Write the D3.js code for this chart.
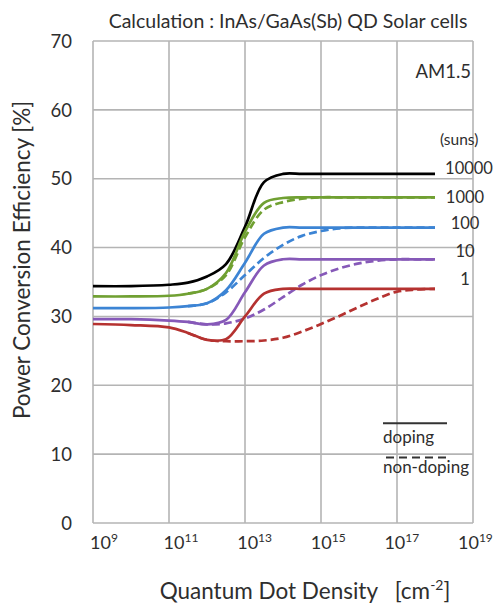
<!DOCTYPE html>
<html>
<head>
<meta charset="utf-8">
<script src="https://cdn.jsdelivr.net/npm/d3@7"></script>
<style>
  body { margin: 0; background: #fff; }
  svg text { font-family: Lato, 'Open Sans', sans-serif; fill: #2e2e2e; }
</style>
</head>
<body>
<svg id="chart" width="494" height="607"></svg>
<script>
// density exponents (x = 10^e cm^-2)
const exps = [9, 10, 11, 11.5, 12, 12.5, 13, 13.5, 14, 14.5, 15, 15.5, 16, 16.5, 17, 17.5, 18];

// doping (solid) efficiencies [%]
const doped10000 = [34.4, 34.4, 34.6, 34.9, 35.8, 37.6, 43.0, 49.5, 50.7, 50.7, 50.7, 50.7, 50.7, 50.7, 50.7, 50.7, 50.7];
const doped1000 = [32.9, 32.9, 33.0, 33.3, 34.0, 36.3, 42.3, 46.5, 47.2, 47.3, 47.3, 47.3, 47.3, 47.3, 47.3, 47.3, 47.3];
const doped100 = [31.2, 31.2, 31.3, 31.5, 31.9, 33.8, 37.8, 42.0, 42.9, 42.9, 42.9, 42.9, 42.9, 42.9, 42.9, 42.9, 42.9];
const doped10 = [29.6, 29.6, 29.4, 29.2, 28.85, 29.5, 33.5, 37.4, 38.3, 38.3, 38.3, 38.3, 38.3, 38.3, 38.3, 38.3, 38.3];
const doped1 = [28.9, 28.75, 28.4, 27.6, 26.6, 26.7, 30.0, 33.3, 34.0, 34.0, 34.0, 34.0, 34.0, 34.0, 34.0, 34.0, 34.0];

// non-doping (dashed) efficiencies [%], from 10^11.5
const dashExps = [11.5, 12, 12.5, 13, 13.5, 14, 14.5, 15, 15.5, 16, 16.5, 17, 17.5, 18];
const undoped1000 = [33.3, 34.0, 36.0, 41.5, 45.5, 46.6, 47.1, 47.3, 47.3, 47.3, 47.3, 47.3, 47.3, 47.3];
const undoped100 = [31.5, 31.9, 33.5, 36.0, 38.5, 40.4, 41.7, 42.4, 42.8, 42.9, 42.9, 42.9, 42.9, 42.9];
const undoped10 = [29.2, 28.85, 29.0, 29.7, 31.0, 32.8, 34.6, 36.0, 37.0, 37.7, 38.1, 38.3, 38.3, 38.3];
const undoped1 = [27.6, 26.6, 26.4, 26.4, 26.5, 26.9, 27.8, 28.9, 30.1, 31.4, 32.6, 33.6, 33.9, 34.0];

const suns = ['10000', '1000', '100', '10', '1'];
const colors = ['#000000', '#70a032', '#3c84d4', '#8659b8', '#b53230'];
const solidSeries = [doped10000, doped1000, doped100, doped10, doped1];
const dashedSeries = [null, undoped1000, undoped100, undoped10, undoped1];

const yTicks = [0, 10, 20, 30, 40, 50, 60, 70];
const xTickExps = [9, 11, 13, 15, 17, 19];

const margin = { top: 41, right: 21, bottom: 84, left: 93 };
const W = 494, H = 607;
const w = W - margin.left - margin.right;
const h = H - margin.top - margin.bottom;

const svg = d3.select('#chart');
const g = svg.append('g').attr('transform', `translate(${margin.left},${margin.top})`);

const x = d3.scaleLog().domain([1e9, 1e19]).range([0, w]);
const y = d3.scaleLinear().domain([0, 70]).range([h, 0]);

// grid
g.append('g')
  .selectAll('line')
  .data(yTicks)
  .join('line')
  .attr('x1', 0)
  .attr('x2', w)
  .attr('y1', d => y(d))
  .attr('y2', d => y(d))
  .attr('stroke', '#b4b4b4')
  .attr('stroke-width', 1.6);
g.append('g')
  .selectAll('line')
  .data(xTickExps)
  .join('line')
  .attr('x1', d => x(Math.pow(10, d)))
  .attr('x2', d => x(Math.pow(10, d)))
  .attr('y1', 0)
  .attr('y2', h)
  .attr('stroke', '#b4b4b4')
  .attr('stroke-width', 1.6);

// y tick labels
g.append('g')
  .selectAll('text')
  .data(yTicks)
  .join('text')
  .attr('x', -21)
  .attr('y', d => y(d))
  .attr('dy', '0.36em')
  .attr('text-anchor', 'end')
  .attr('font-size', 18.5)
  .text(d => d);

// x tick labels with superscripts (labels drift a little left of the grid)
const xl = g.append('g')
  .selectAll('text')
  .data(xTickExps)
  .join('text')
  .attr('x', (d, i) => x(Math.pow(10, d)) - 3 - 2.4 * i)
  .attr('y', h + 26)
  .attr('font-size', 18);
xl.append('tspan').text('10');
xl.append('tspan').attr('dy', -7).attr('font-size', 12).text(d => d);

const line = d3.line()
  .x(d => x(Math.pow(10, d[0])))
  .y(d => y(d[1]))
  .curve(d3.curveCatmullRom.alpha(0.5));

// dashed (non-doping) first, solid on top
dashedSeries.forEach((s, i) => {
  if (!s) return;
  g.append('path')
    .attr('d', line(dashExps.map((e, j) => [e, s[j]])))
    .attr('fill', 'none')
    .attr('stroke', colors[i])
    .attr('stroke-width', 2.7)
    .attr('stroke-dasharray', '8,4');
});
solidSeries.forEach((s, i) => {
  g.append('path')
    .attr('d', line(exps.map((e, j) => [e, s[j]])))
    .attr('fill', 'none')
    .attr('stroke', colors[i])
    .attr('stroke-width', 2.7);
});

// suns labels
g.append('text')
  .attr('x', 347)
  .attr('y', 99)
  .attr('dy', '0.35em')
  .attr('font-size', 15.5)
  .text('(suns)');
g.append('g')
  .selectAll('text')
  .data(suns)
  .join('text')
  .attr('x', (d, i) => (i === 0 ? 376 : 372))
  .attr('y', (d, i) => y(solidSeries[i][solidSeries[i].length - 1]) + [-6, 0, -4, -8, -10][i])
  .attr('dy', '0.35em')
  .attr('text-anchor', 'middle')
  .attr('font-size', 16.5)
  .text(d => d);

// AM1.5
g.append('text')
  .attr('x', w - 2)
  .attr('y', y(65.5))
  .attr('dy', '0.35em')
  .attr('text-anchor', 'end')
  .attr('font-size', 18.5)
  .text('AM1.5');

// legend
g.append('line')
  .attr('x1', 290).attr('x2', 354)
  .attr('y1', y(14.5)).attr('y2', y(14.5))
  .attr('stroke', '#333').attr('stroke-width', 2);
g.append('text')
  .attr('x', 290).attr('y', y(11.6))
  .attr('font-size', 17)
  .text('doping');
g.append('line')
  .attr('x1', 293).attr('x2', 357)
  .attr('y1', y(9.5)).attr('y2', y(9.5))
  .attr('stroke', '#333').attr('stroke-width', 2)
  .attr('stroke-dasharray', '8,5');
g.append('text')
  .attr('x', 290).attr('y', y(7.2))
  .attr('font-size', 17)
  .text('non-doping');

// title
svg.append('text')
  .attr('x', 288)
  .attr('y', 28)
  .attr('text-anchor', 'middle')
  .attr('font-size', 19.5)
  .text('Calculation : InAs/GaAs(Sb) QD Solar cells');

// axis titles
const xt = svg.append('text')
  .attr('x', 305)
  .attr('y', 599)
  .attr('text-anchor', 'middle')
  .attr('font-size', 22.5)
  .attr('xml:space', 'preserve');
xt.append('tspan').text('Quantum Dot Density   [cm');
xt.append('tspan').attr('dy', -9).attr('font-size', 14).text('-2');
xt.append('tspan').attr('dy', 9).text(']');

svg.append('text')
  .attr('transform', 'translate(30,260) rotate(-90)')
  .attr('text-anchor', 'middle')
  .attr('font-size', 22.5)
  .text('Power Conversion Efficiency [%]');
</script>
</body>
</html>
